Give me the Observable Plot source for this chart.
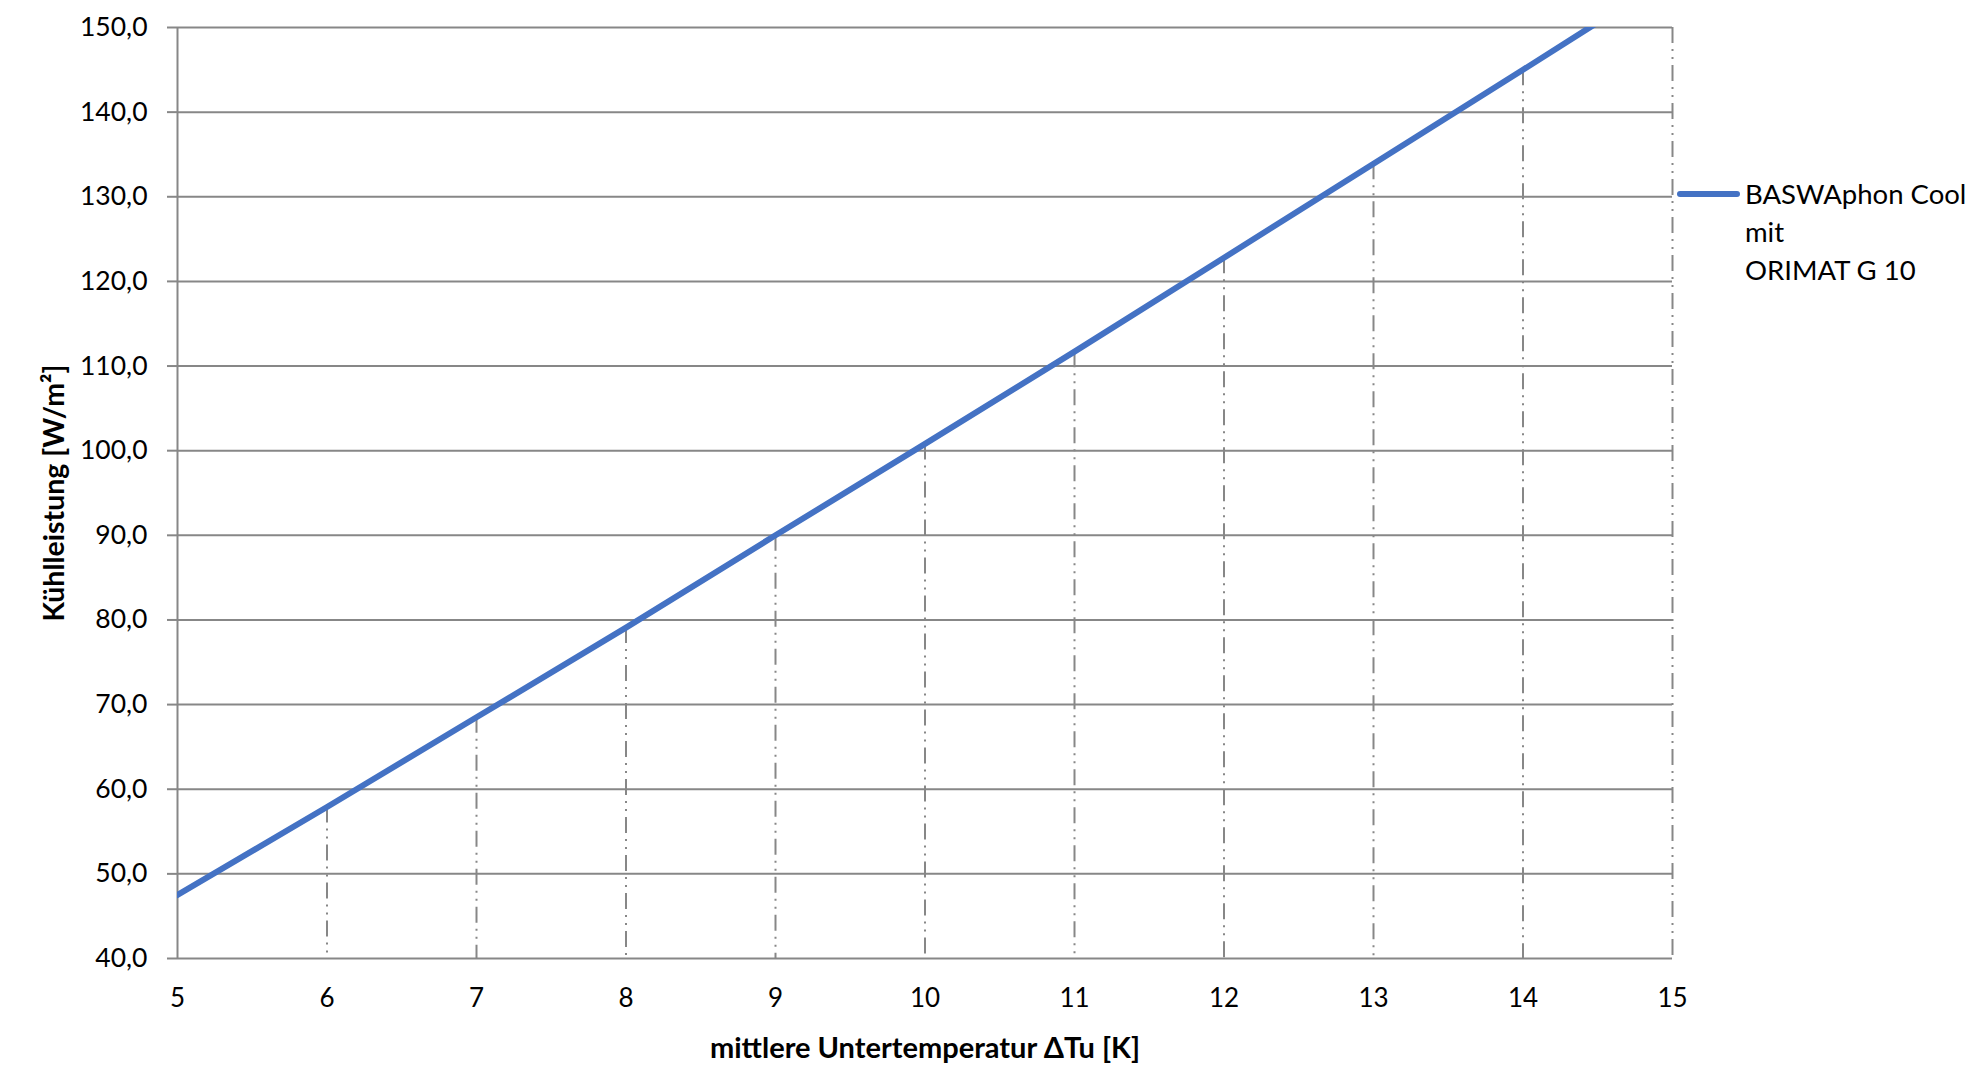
<!DOCTYPE html>
<html>
<head>
<meta charset="utf-8">
<script src="https://cdn.jsdelivr.net/npm/d3@7"></script>
<script src="https://cdn.jsdelivr.net/npm/@observablehq/plot@0.6"></script>
<style>
  html, body { margin: 0; padding: 0; background: #fff; }
  #wrap { position: relative; width: 1981px; height: 1077px; }
  #legend { position: absolute; left: 1677px; top: 175px; font-family: Lato, sans-serif; font-size: 27.5px; line-height: 38px; color: #000; }
  #legend .swatch { position: absolute; left: 0; top: 16px; width: 63px; height: 6px; border-radius: 3px; background: #4472C4; }
  #legend .txt { position: absolute; left: 68px; top: 0; white-space: nowrap; }
</style>
</head>
<body>
<div id="wrap"></div>
<script>
// Data
const xValues = [5, 6, 7, 8, 9, 10, 11, 12, 13, 14, 15];
const yValues = [47.5, 57.9, 68.5, 79.1, 90.0, 100.8, 111.7, 122.8, 133.9, 145.0, 156.2];
const xTicks = [5, 6, 7, 8, 9, 10, 11, 12, 13, 14, 15];
const yTicks = [40, 50, 60, 70, 80, 90, 100, 110, 120, 130, 140, 150];
const seriesLines = ["BASWAphon Cool", "mit", "ORIMAT G 10"];
const xTitle = "mittlere Untertemperatur ΔTu [K]";
const yTitle = "Kühlleistung [W/m²]";

const data = xValues.map((x, i) => ({x, y: yValues[i]}));
const yMin = yTicks[0], yMax = yTicks[yTicks.length - 1];
const fmtY = d => d.toFixed(1).replace(".", ",");
const grid = "#878787";

const chart = Plot.plot({
  width: 1981,
  height: 1077,
  marginLeft: 177,
  marginRight: 309,
  marginTop: 27,
  marginBottom: 119,
  x: {domain: [xTicks[0], xTicks[xTicks.length - 1]]},
  y: {domain: [yMin, yMax]},
  style: {fontFamily: "Lato, sans-serif", background: "#fff", color: "#000"},
  marks: [
    Plot.ruleY(yTicks, {stroke: grid, strokeWidth: 2}),
    Plot.ruleX(data.slice(1), {x: "x", y1: d => Math.min(d.y, yMax), y2: yMin, stroke: grid, strokeWidth: 2, strokeDasharray: "16,6,2,6,2,6"}),
    Plot.ruleX([xTicks[0]], {stroke: grid, strokeWidth: 2}),
    Plot.line(data, {x: "x", y: "y", stroke: "#4472C4", strokeWidth: 6, clip: true}),
    Plot.axisY({ticks: yTicks, tickSize: 10, tickPadding: 20, tickFormat: fmtY, fontSize: 26.5, stroke: grid, strokeWidth: 2, fill: "#000", label: null}),
    Plot.axisX({ticks: xTicks, tickSize: 0, tickPadding: 30, tickFormat: d => String(d), fontSize: 26, fill: "#000", label: null}),
    Plot.text([yTitle], {frameAnchor: "left", dx: -123, rotate: -90, textAnchor: "middle", lineAnchor: "middle", fontWeight: "bold", fontSize: 28.5, fill: "#000"}),
    Plot.text([xTitle], {frameAnchor: "bottom", dy: 90, textAnchor: "middle", lineAnchor: "middle", fontWeight: "bold", fontSize: 29, fill: "#000"})
  ]
});

const wrap = document.getElementById("wrap");
wrap.appendChild(chart);
const legend = document.createElement("div");
legend.id = "legend";
legend.innerHTML = '<div class="swatch"></div><div class="txt">' + seriesLines.join("<br>") + '</div>';
wrap.appendChild(legend);
</script>
</body>
</html>
